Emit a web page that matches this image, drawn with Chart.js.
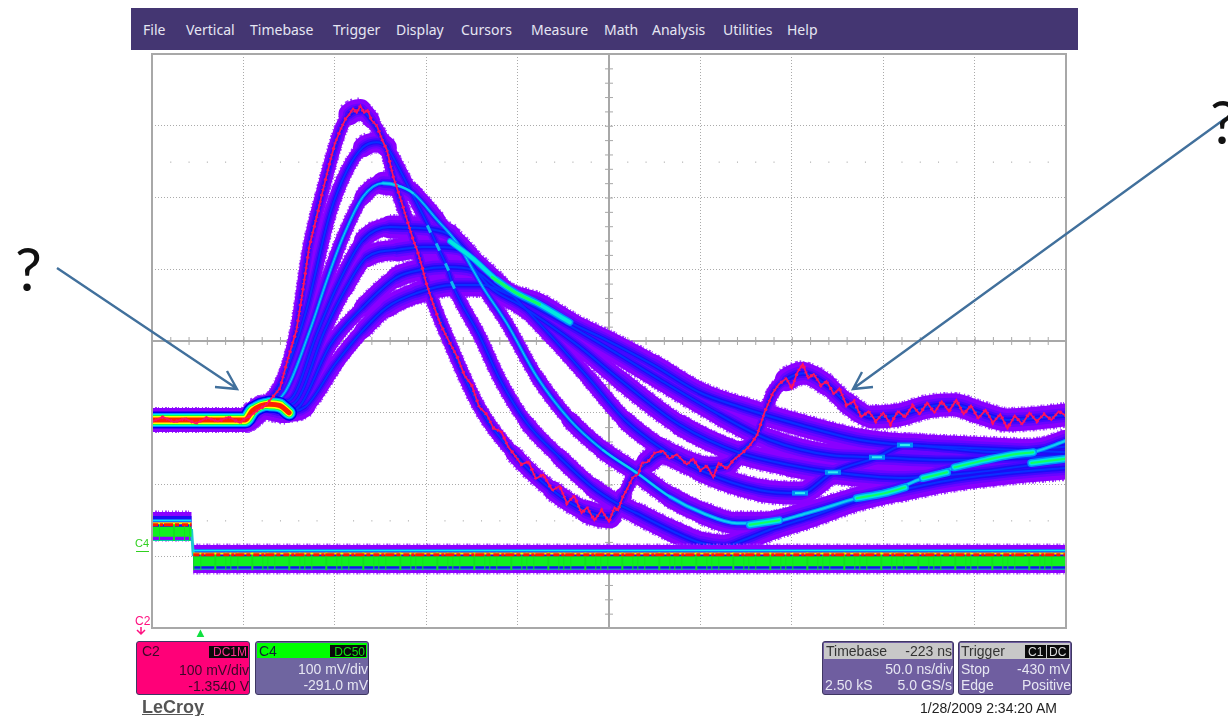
<!DOCTYPE html>
<html>
<head>
<meta charset="utf-8">
<script src="https://cdn.jsdelivr.net/npm/chart.js@4/dist/chart.umd.min.js"></script>
<style>
body { margin: 0; background: #fff; overflow: hidden; width: 1228px; height: 716px; position: relative; font-family: "Liberation Sans", sans-serif; }
canvas { position: absolute; left: 0; top: 0; }
svg { position: absolute; left: 0; top: 0; }
.t { position: absolute; white-space: nowrap; line-height: 16px; }
.box { position: absolute; border-radius: 3px; box-sizing: border-box; border: 1px solid #3f3763; }
</style>
</head>
<body>
<canvas id="scope" width="1228" height="716"></canvas>
<svg width="1228" height="716">
  <g fill="none" stroke="#41709c" stroke-width="2.4">
    <path d="M57 268 L236 388 M215 387 L237 389 L227 371"/>
    <path d="M1226 118 L854 388 M862 372 L853 389 L873 387"/>
  </g>
  <path d="M141 627 V634 M137 630 L141 634 L145 630" fill="none" stroke="#ff1080" stroke-width="1.5"/>
</svg>
<script>
// persistence traces, time in ns across the screen, level in mV from centre
const t1 = [0,51,56,60,64.5,70,79,86,93.5,103,108,114,120,128.5,132,139.5,145,150,163,179,197.5,219,238,250.5,257.6,263,271,279.5,292.6,303.6,314.5,323,331,339.7,347,356,369,380,394,409,424,438,453,468,486,500]
const v1 = [-110,-110,-99,-93,-85,-66,15,131,210,294,316,322,308,266,229,169,127,81,-3,-92,-156,-208,-238,-245,-217,-190,-169,-156,-169,-177,-173,-152,-131,-72,-54,-45,-61,-86,-106,-103,-92,-89,-100,-110,-107,-103]
const t2 = [0,51,60,70,84,97.4,106.7,115.4,123,128.5,135.7,143.9,152,156.4,161.4,164.6,179.4,190.4,205,223,241,254,265,283,301,313,324,338,360,385.6,409,436.5,467.7,500]
const v2 = [-110,-110,-93,-61,39,178,238,270,277,270,238,197,156,131,103,78,6,-54,-114,-162,-204,-226,-240,-263,-282,-286,-277,-263,-245,-222,-208,-194,-184,-177]
const t3 = [0,51,60,72.8,86.4,95.7,104.5,115.4,126.4,134,142.8,155.9,166.8,175.6,181,194,210.6,228.6,246.7,265.3,283.3,301.4,320,334.2,358.3,385.6,409,421.7,434.9,449,467.7,481.9,500]
const v3 = [-110,-110,-93,-71,15,85,145,201,220,217,206,169,137,99,75,25,-50,-110,-152,-184,-217,-240,-254,-254,-240,-219,-204,-191,-180,-170,-159,-155,-139]
const t4 = [0,51,60,70,75.5,90.3,101,115.4,130.2,141,152,163,174,188.7,201.3,219.3,239.6,258.7,277.9,299.8,332.6,354.5,372.5,396.6,411.9,436.5,463.9,500]
const v4 = [-110,-110,-93,-85,-82,11,75,141,159,158,156,148,120,85,53,4,-54,-110,-148,-180,-208,-212,-183,-162,-145,-150,-155,-147]
const t5 = [0,51,60,72,78,94.6,105.6,117.6,134,148.2,156.4,170,174,185,201.3,231.4,256,288.8,321.6,349,372.5,409,447.4,500]
const v5 = [-110,-110,-93,-90,-86,15,71,117,127,131,131,127,110,75,50,-3,-54,-117,-156,-173,-183,-191,-184,-166]
const t6 = [0,51,60,72.7,81,97.4,115.4,134,146.6,161.4,175.6,188.7,199.7,223.2,256,277.9,310.7,338,370.9,396.6,436.5,500]
const v6 = [-110,-110,-93,-99,-90,-6,47,89,99,103,99,75,61,29,-20,-54,-103,-138,-159,-162,-166,-160]
const t7 = [0,51,60,72.7,83.7,100,115.4,128.5,145,164.6,181,195.8,210.6,228.6,248.9,274,299.8,321.6,354.5,387.3,411.9,447.4,500]
const v7 = [-110,-110,-93,-99,-92,-33,15,47,67,78,78,64,53,26,1,-33,-72,-92,-117,-138,-145,-149,-155]

// the noisy single shot on C2
const redT = [0,6,12,18,24,30,36,42,48,51,54,58,62,66,70,74,79,82,86,90,93.5,97,100,103,106,108,110,112,114,116,118,120,123,126,128.5,132,136,139.5,143,145,148,150,154,158,163,167,171,175,179,183,187,191,195,197.5,202,206,210,214,219,223,227,231,235,238,242,246,250,253,255,257.6,260,263,266,268,271,275,279.5,283,287,292.6,296,300,303.6,307,310,314.5,318,323,327,331,335,339.7,343,347,350,353,356,359,362,366,369,373,376,380,384,388,392,396,400,404,408,412,416,420,424,428,432,436,440,444,448,452,456,460,464,468,472,476,480,484,488,492,496,500]
const redV = [-112,-106,-113,-108,-115,-107,-112,-106,-114,-108,-104,-96,-90,-78,-66,-28,15,62,131,172,210,246,275,294,310,316,324,318,328,318,322,308,300,280,266,229,198,169,140,127,101,81,50,22,-3,-22,-48,-62,-92,-102,-122,-126,-148,-156,-172,-168,-192,-186,-208,-202,-226,-216,-240,-232,-250,-236,-252,-232,-236,-217,-206,-190,-186,-170,-169,-156,-153,-164,-158,-172,-164,-180,-174,-190,-170,-178,-166,-156,-146,-131,-100,-72,-60,-52,-66,-44,-32,-52,-46,-62,-56,-74,-66,-90,-84,-106,-98,-112,-100,-116,-98,-106,-90,-102,-86,-100,-84,-98,-82,-102,-90,-108,-96,-114,-102,-122,-104,-116,-100,-112,-102,-110,-98,-104]

// bright spots where many sweeps pile up
const hotAT = [163,175,188.7,198.6,210.6,228.6]
const hotAV = [139,116,85,68,53,26]
const hotBT = [385.6,401,411.9]
const hotBV = [-219,-212,-204]
const hotCT = [421.7,434.9]
const hotCV = [-191,-183]
const hotDT = [439,456,469.5,482]
const hotDV = [-176,-166,-159,-155]
const hotET = [481,500]
const hotEV = [-170,-164]
const hotFT = [327,343]
const hotFV = [-256,-250]
const greenT = [186,198.6,212]
const greenV = [89,68,51]
const crossT = [354.5,372.5,396.6,411.9]
const crossV = [-212,-183,-162,-145]
const steepT = [151.5,156.4,161.4,164.6]
const steepV = [156,131,103,78]

// C2 baseline and the trigger hump
const baseT = [0,51,55,64,70,75]
const baseV = [-110,-110,-97,-88,-90,-100]
// C4 step, the gap keeps the two levels apart
const c4T = [0,21.6,22,22.6,500]
const c4Band = [-258,-258,null,-304,-304]
const c4Cyan = [-250,-250,null,-292,-292]
const c4Yellow = [-254,-254,null,-296,-296]
const c4Red = [-256,-256,null,-298,-298]
const c4Green = [-266,-266,null,-307,-307]
const c4Blue = [-278,-278,null,-318,-318]
const stepT = [21.6,22.6]
const stepV = [-262,-300]

const menuNames = ['File','Vertical','Timebase','Trigger','Display','Cursors','Measure','Math','Analysis','Utilities','Help']
const menuLeft = [143,186,250,333,396,461,531,604,652,723,787]

const xy = (t, v) => t.map((x, i) => ({ x: x, y: v[i] }))

let datasets = []
function band (t, v, color, tall, thin, order, dash) {
  // keeps the vertical thickness about the same on flat parts, thinner on steep edges
  const width = ctx => {
    const a = Math.max(ctx.p0DataIndex - 1, 0)
    const b = Math.min(ctx.p1DataIndex + 1, t.length - 1)
    const dx = (t[b] - t[a]) * 1.83
    const dy = (v[b] - v[a]) * 0.72
    return Math.round(Math.max(thin, tall * dx / (Math.sqrt(dx * dx + dy * dy) || 1)))
  }
  datasets.push({
    data: xy(t, v),
    borderColor: color,
    borderCapStyle: dash ? 'butt' : 'round',
    borderJoinStyle: 'round',
    borderDash: dash || [],
    cubicInterpolationMode: 'monotone',
    pointRadius: 0,
    fill: false,
    clip: 0,
    order: order,
    segment: { borderWidth: width }
  })
}
function flat (t, v, color, width, order, dash) {
  datasets.push({
    data: xy(t, v),
    borderColor: color,
    borderWidth: width,
    borderDash: dash || [],
    tension: 0,
    pointRadius: 0,
    fill: false,
    clip: 0,
    order: order
  })
}

const traces = [[t1,v1],[t2,v2],[t3,v3],[t4,v4],[t5,v5],[t6,v6],[t7,v7]]
traces.forEach(tr => {
  band(tr[0], tr[1], '#a338ff', 26, 15, 90, [1,2,2,1,1,3])
  band(tr[0], tr[1], '#8a00ff', 23, 13, 80)
})
traces.forEach(tr => band(tr[0], tr[1], '#6a04ff', 14, 9, 75))
traces.forEach(tr => band(tr[0], tr[1], '#4308ff', 9, 6, 70))
traces.forEach(tr => band(tr[0], tr[1], '#1c0cf5', 5, 3, 60))
traces.forEach(tr => band(tr[0], tr[1], '#0a30ff', 2, 2, 50))
band(t3, v3, '#0088ff', 4, 3, 45)
band(t3, v3, '#10d0f0', 2, 1, 44)

const hot = [[hotAT,hotAV],[hotBT,hotBV],[hotCT,hotCV],[hotDT,hotDV],[hotET,hotEV],[hotFT,hotFV]]
hot.forEach((h, i) => {
  band(h[0], h[1], '#0090ff', 8, 6, 40)
  band(h[0], h[1], '#00e8e0', 5, 3, 38)
  if (i > 0) band(h[0], h[1], '#10ff60', 2, 1, 36)
})
band(greenT, greenV, '#10ff60', 3, 3, 36)
datasets.push({ data: xy(crossT, crossV), showLine: false, pointStyle: 'line', pointRadius: 8, pointBorderWidth: 5, pointBorderColor: '#0090f8', clip: 0, order: 35 })
datasets.push({ data: xy(crossT, crossV), showLine: false, pointStyle: 'line', pointRadius: 5, pointBorderWidth: 2, pointBorderColor: '#30f0f0', clip: 0, order: 34.5 })
datasets.push({ data: xy(steepT, steepV), showLine: false, pointStyle: 'line', pointRotation: 65, pointRadius: 4, pointBorderWidth: 3, pointBorderColor: '#10b8f0', clip: 0, order: 35 })

// rainbow on the C2 baseline
const rainbow = [['#0000f0',17],['#0090ff',14],['#00f0e0',12],['#10ff40',10],['#ffff00',8],['#ff2000',5]]
rainbow.forEach((r, i) => band(baseT, baseV, r[0], r[1], r[1] * 0.8, 34 - i))

// C4 channel, bands first then the hot lines
flat(c4T, c4Band, '#a338ff', 31, 33, [1,2,2,1,1,3])
flat(c4T, c4Band, '#8a00ff', 28, 32)
flat(c4T, c4Band, '#1c0cf5', 20, 31)
flat(stepT, stepV, '#20c8d0', 3, 30.5)
flat(c4T, c4Cyan, '#00e8ff', 2, 30)
flat(c4T, c4Blue, '#00d0a0', 1, 29)
flat(c4T, c4Green, '#10f020', 10, 28)
flat(c4T, c4Green, '#10e020', 18, 27, [1,6,1,13,2,9,1,4])
flat(c4T, c4Yellow, '#f8f000', 2, 26)
flat(c4T, c4Red, '#ff1800', 3, 25, [6,2,3,1,9,2,4,3])

flat(redT, redV, '#ff1060', 1.8, 10)
flat(redT, redV, '#ff1060', 3.5, 11, [1,3,1,5,2,4])

const screenLines = {
  id: 'screenLines',
  beforeDatasetsDraw (chart) {
    const c = chart.ctx
    const a = chart.chartArea
    const x = chart.scales.x
    const y = chart.scales.y
    c.save()
    // fine dots at a quarter of the screen above and below centre
    c.fillStyle = '#999'
    for (let ns = 10; ns < 500; ns += 10) {
      if (ns % 50 === 0) continue
      c.fillRect(x.getPixelForValue(ns), y.getPixelForValue(250), 1, 1)
      c.fillRect(x.getPixelForValue(ns), y.getPixelForValue(-250), 1, 1)
    }
    // centre cross with its ticks
    c.fillStyle = '#a8a8a8'
    const cx = Math.round(x.getPixelForValue(250)) - 1
    const cy = Math.round(y.getPixelForValue(0)) - 1
    c.fillRect(a.left, cy, a.right - a.left, 2)
    c.fillRect(cx, a.top, 2, a.bottom - a.top)
    for (let ns = 0; ns <= 500; ns += 10) c.fillRect(x.getPixelForValue(ns), cy - 3, 1, 8)
    for (let mv = -400; mv <= 400; mv += 20) c.fillRect(cx - 3, y.getPixelForValue(mv), 8, 1)
    c.restore()
  },
  afterDatasetsDraw (chart) {
    const c = chart.ctx
    const a = chart.chartArea
    c.save()
    c.strokeStyle = '#a8a8a8'
    c.lineWidth = 2
    c.strokeRect(a.left, a.top, a.right - a.left, a.bottom - a.top)
    c.restore()
  }
}

new Chart(document.getElementById('scope'), {
  type: 'line',
  data: { datasets: datasets },
  plugins: [screenLines],
  options: {
    responsive: false,
    animation: false,
    events: [],
    layout: { padding: { left: 152, right: 162, top: 54, bottom: 88 } },
    plugins: { legend: { display: false }, tooltip: { enabled: false } },
    scales: {
      x: {
        type: 'linear', min: 0, max: 500,
        ticks: { display: false, stepSize: 50 },
        grid: { color: '#aaaaaa', lineWidth: 1, drawTicks: false },
        border: { display: false, dash: [1,2] }
      },
      y: {
        type: 'linear', min: -400, max: 400,
        ticks: { display: false, stepSize: 100 },
        grid: { color: '#aaaaaa', lineWidth: 1, drawTicks: false },
        border: { display: false, dash: [1,2] }
      }
    }
  }
})

// everything around the screen is plain text and boxes
function box (left, top, w, h, bg, radius) {
  const d = document.createElement('div')
  d.className = 'box'
  d.style.cssText = `left:${left}px;top:${top}px;width:${w}px;height:${h}px;background:${bg};` + (radius === 0 ? 'border:none;border-radius:0;' : '')
  document.body.appendChild(d)
}
function text (s, x, y, color, size, right, extra) {
  const d = document.createElement('div')
  d.className = 't'
  d.textContent = s
  d.style.cssText = (right ? `right:${1228 - x}px;` : `left:${x}px;`) + `top:${y - 8}px;color:${color};font-size:${size}px;` + (extra || '')
  document.body.appendChild(d)
}

box(131, 8, 947, 42, '#443672', 0)
menuNames.forEach((m, i) => text(m, menuLeft[i], 30, '#e6e6f2', 14, false, 'font-family:"Noto Sans";'))

text('?', 15, 268, '#111', 60, false, 'font-family:"Lato";font-weight:400;line-height:60px;margin-top:-22px;')
text('?', 1210, 121, '#111', 60, false, 'font-family:"Lato";font-weight:400;line-height:60px;margin-top:-22px;')

// channel markers left of the screen
text('C4', 135, 543, '#30d020', 11)
box(136, 551, 13, 1, '#30d020', 0)
text('C2', 135, 621, '#ff1080', 12)
text('▲', 194, 633, '#10e040', 13)

// C2 panel
box(136, 641, 114, 54, '#ff0078')
text('C2', 142, 651, '#3a0828', 14)
box(209, 646, 39, 12, '#0a0a0a', 0)
text('DC1M', 247, 652, '#ff3090', 12, true)
text('100 mV/div', 249, 670, '#3a0828', 14, true)
text('-1.3540 V', 249, 686, '#3a0828', 14, true)

// C4 panel
box(255, 641, 114, 54, '#6f65a0')
box(257, 643, 110, 15, '#00ff00', 0)
text('C4', 259, 651, '#123', 14)
box(330, 645, 36, 12, '#0a0a0a', 0)
text('DC50', 365, 652, '#10e010', 12, true)
text('100 mV/div', 368, 669, '#e6e6f2', 14, true)
text('-291.0 mV', 368, 685, '#e6e6f2', 14, true)

// timebase panel
box(822, 641, 132, 54, '#6f5ea0')
box(824, 643, 128, 16, '#c8c8c8', 0)
text('Timebase', 826, 651, '#333', 14)
text('-223 ns', 952, 651, '#333', 14, true)
text('50.0 ns/div', 953, 669, '#e6e6f2', 14, true)
text('2.50 kS', 825, 685, '#e6e6f2', 14)
text('5.0 GS/s', 952, 685, '#e6e6f2', 14, true)

// trigger panel
box(958, 641, 114, 54, '#6f5ea0')
box(960, 643, 110, 16, '#c8c8c8', 0)
text('Trigger', 961, 651, '#333', 14)
box(1025, 645, 21, 13, '#0a0a0a', 0)
box(1047, 645, 22, 13, '#0a0a0a', 0)
text('C1', 1028, 652, '#ddd', 12)
text('DC', 1049, 652, '#ddd', 12)
text('Stop', 961, 669, '#e6e6f2', 14)
text('-430 mV', 1070, 669, '#e6e6f2', 14, true)
text('Edge', 961, 685, '#e6e6f2', 14)
text('Positive', 1071, 685, '#e6e6f2', 14, true)

text('LeCroy', 142, 707, '#555', 18, false, 'text-decoration:underline;font-weight:bold;')
text('1/28/2009 2:34:20 AM', 920, 708, '#222', 14)
</script>
</body>
</html>
